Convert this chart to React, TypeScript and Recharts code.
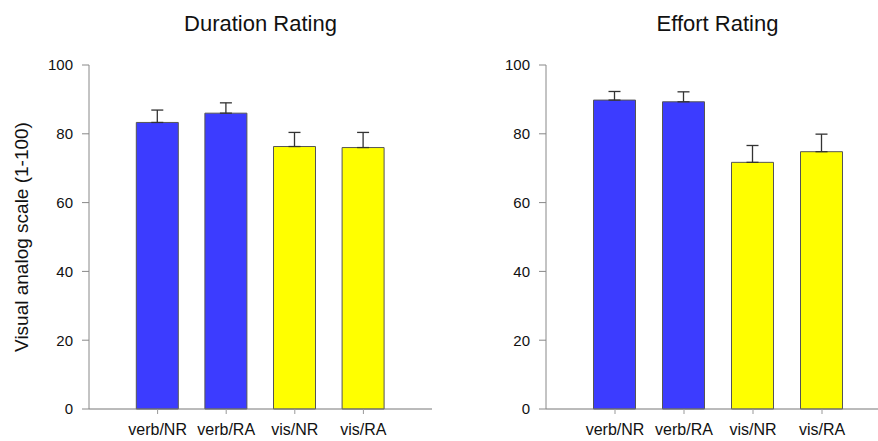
import React from 'react';
import { BarChart, Bar, XAxis, YAxis, ErrorBar, Cell } from 'recharts';

const categories = ['verb/NR', 'verb/RA', 'vis/NR', 'vis/RA'];
const positions = [1, 2, 3, 4];
const durationValues = [83.3, 86.0, 76.3, 76.0];
const durationErrors = [3.6, 3.0, 4.1, 4.4];
const effortValues = [89.8, 89.3, 71.7, 74.8];
const effortErrors = [2.5, 2.9, 4.9, 5.1];
const yTicks = [0, 20, 40, 60, 80, 100];
const barColors = ['#3c3cff', '#3c3cff', '#ffff00', '#ffff00'];

const build = (vals: number[], errs: number[]) =>
  categories.map((c, i) => ({ name: c, pos: positions[i], value: vals[i], err: [0, errs[i]] }));

const durationData = build(durationValues, durationErrors);
const effortData = build(effortValues, effortErrors);

const font = 'Arial, "Liberation Sans", sans-serif';

function Panel({ data, showLabel, marginRight }: { data: any[]; showLabel: boolean; marginRight: number }) {
  return (
    <BarChart width={450} height={441} data={data} margin={{ top: 65, right: marginRight, bottom: 0, left: 0 }}>
      <XAxis
        dataKey="pos"
        type="number"
        domain={[0, 5]}
        ticks={positions}
        tickFormatter={(v: number) => categories[v - 1]}
        height={32}
        axisLine={{ stroke: '#777' }}
        tickLine={{ stroke: '#999' }}
        tickSize={5}
        tickMargin={10}
        tick={{ fill: '#111', fontSize: 16, fontFamily: font }}
        interval={0}
      />
      <YAxis
        domain={[0, 100]}
        ticks={yTicks}
        width={89}
        axisLine={{ stroke: '#888' }}
        tickLine={{ stroke: '#888' }}
        tickSize={7}
        tickMargin={9}
        tick={{ fill: '#111', fontSize: 15, fontFamily: font }}
        label={
          showLabel
            ? {
                value: 'Visual analog scale (1-100)',
                angle: -90,
                position: 'insideLeft',
                offset: 21,
                style: { textAnchor: 'middle', fontSize: 19, fontFamily: font, fill: '#111' },
              }
            : undefined
        }
      />
      <Bar dataKey="value" barSize={42} stroke="#555" strokeWidth={1} isAnimationActive={false}>
        {data.map((d, i) => (
          <Cell key={d.name} fill={barColors[i]} />
        ))}
        <ErrorBar dataKey="err" direction="y" width={6} stroke="#333" strokeWidth={1.3} isAnimationActive={false} />
      </Bar>
    </BarChart>
  );
}

const titleStyle: React.CSSProperties = {
  position: 'absolute',
  top: 11,
  fontSize: 22,
  fontFamily: font,
  color: '#111',
  textAlign: 'center',
  width: 343,
};

export default function App() {
  return (
    <div style={{ position: 'absolute', left: 0, top: 0, width: 878, height: 441, overflow: 'hidden', background: '#fff' }}>
      <div style={{ position: 'absolute', left: 0, top: 0 }}>
        <Panel data={durationData} showLabel={true} marginRight={18} />
      </div>
      <div style={{ position: 'absolute', left: 457, top: 0 }}>
        <Panel data={effortData} showLabel={false} marginRight={16} />
      </div>
      <div style={{ ...titleStyle, left: 89 }}>Duration Rating</div>
      <div style={{ ...titleStyle, left: 546 }}>Effort Rating</div>
    </div>
  );
}
